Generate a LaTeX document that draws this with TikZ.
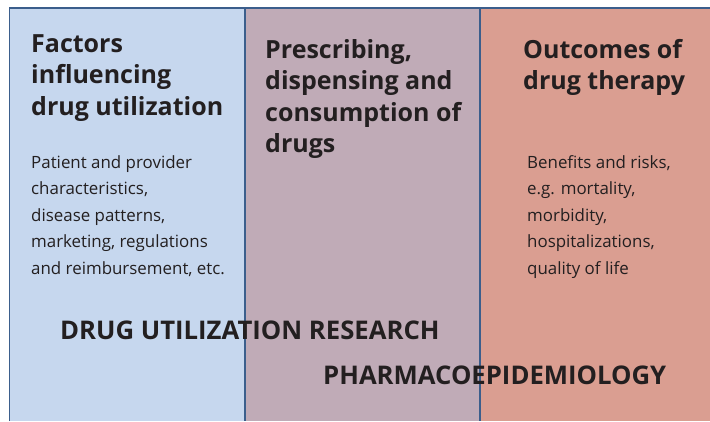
\documentclass[tikz,border=0pt]{standalone}
\usepackage{fontspec}
\setmainfont{Open Sans}
\definecolor{panelblue}{HTML}{C6D7EE}
\definecolor{panelmauve}{HTML}{C0ABB7}
\definecolor{panelsalmon}{HTML}{DA9E91}
\definecolor{framecol}{HTML}{3B5E8C}
\definecolor{inkcol}{HTML}{231F20}
\tikzset{
  head/.style={anchor=north west, inner sep=0pt, align=left, text=inkcol,
    font=\fontsize{25}{31.5}\selectfont\bfseries},
  bodytext/.style={anchor=north west, inner sep=0pt, align=left, text=inkcol,
    font=\fontsize{16.9}{26.5}\selectfont},
  bigcap/.style={anchor=base west, inner sep=0pt, text=inkcol,
    font=\fontsize{25.7}{30}\selectfont\bfseries},
  frameline/.style={draw=framecol, line width=1.6pt}
}
\begin{document}
\begin{tikzpicture}[x=1pt,y=-1pt]
\useasboundingbox (0,0) rectangle (710,421);
\fill[white] (0,0) rectangle (710,421);
\fill[panelblue] (9.5,8) rectangle (245,421);
\fill[panelmauve] (245,8) rectangle (480,421);
\fill[panelsalmon] (480,8) rectangle (710,421);
\draw[frameline] (9.5,421) -- (9.5,8) -- (710,8);
\draw[frameline] (245,8) -- (245,421);
\draw[frameline] (480,8) -- (480,421);

\node[head] (h1) at (31,34) {Factors\\influencing\\drug utilization};
\node[head] (h2) at (265,39) {Prescribing,\\dispensing and\\consumption of\\drugs};
\node[head] (h3) at (523,39) {Outcomes of\\drug therapy};

\node[bodytext] (b1) at (31,155) {Patient and provider\\characteristics,\\disease patterns,\\marketing, regulations\\and reimbursement, etc.};
\node[bodytext] (b3) at (527,155) {Benefits and risks,\\e.g. mortality,\\morbidity,\\hospitalizations,\\quality of life};

\node[bigcap] (dur) at (60,339) {DRUG UTILIZATION RESEARCH};
\node[bigcap] (pe) at (323,384) {PHARMACOEPIDEMIOLOGY};
\end{tikzpicture}
\end{document}
